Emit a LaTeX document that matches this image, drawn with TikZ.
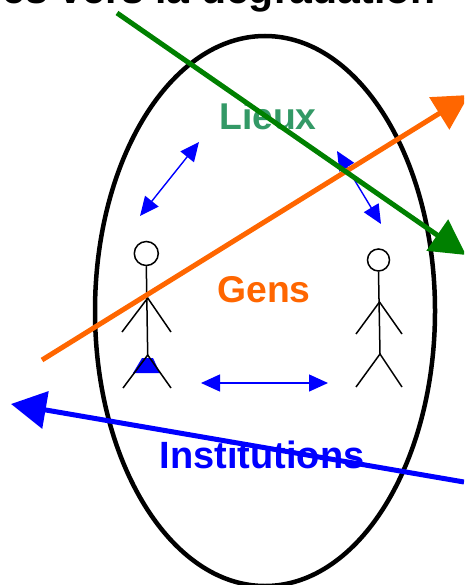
\documentclass[tikz,border=0pt]{standalone}
\usepackage{fontspec}
\setmainfont{Liberation Sans}
\usetikzlibrary{arrows.meta,shapes.geometric}
\definecolor{lieuxgreen}{HTML}{339966}
\definecolor{gensorange}{HTML}{FF6600}
\definecolor{darkgreen}{HTML}{008000}
\definecolor{pureblue}{HTML}{0000FF}
\tikzset{
  biglabel/.style={font=\fontsize{37.3}{37.3}\selectfont\bfseries, inner sep=0pt, anchor=center},
  bigarrow/.style={line width=5pt, -{Triangle[length=35pt,width=37pt]}},
  linkarrow/.style={pureblue, line width=1.4pt, {Triangle[length=19pt,width=17pt]}-{Triangle[length=19pt,width=17pt]}},
  figure line/.style={black, line width=1.5pt},
}
\begin{document}
\begin{tikzpicture}[x=1pt,y=-1pt]
\useasboundingbox (0,0) rectangle (464,585);
\clip (0,0) rectangle (464,585);
\node[font=\fontsize{41}{41}\selectfont\bfseries, inner sep=0pt, anchor=base east] (title) at (436,4) {es vers la dégradation};
\node[draw=black, line width=4.5pt, ellipse, inner sep=0pt, minimum width=340pt, minimum height=550pt] (oval) at (265,311) {};
\node[biglabel, lieuxgreen] (lieux) at (268,116) {Lieux};
\node[biglabel, gensorange] (gens) at (264,290) {Gens};
\node[biglabel, pureblue, font=\fontsize{38}{38}\selectfont\bfseries] (inst) at (262,455) {Institutions};
% left figure
\fill[pureblue] (142,358) -- (153,358) -- (160,373) -- (133,373) -- cycle;
\node[draw=black, line width=1.5pt, circle, minimum size=24pt, inner sep=0pt] (headA) at (146.3,253.5) {};
\coordinate (neckA) at (147.7,298);
\coordinate (hipA) at (147.7,355);
\coordinate (handA1) at (122,332);
\coordinate (handA2) at (171,332);
\coordinate (footA1) at (123,388);
\coordinate (footA2) at (171,388);
\draw[figure line] (headA.south) -- (hipA);
\draw[figure line] (handA1) -- (neckA) -- (handA2);
\draw[figure line] (footA1) -- (hipA) -- (footA2);
% right figure
\node[draw=black, line width=1.5pt, circle, minimum size=22pt, inner sep=0pt] (headB) at (378.5,260) {};
\coordinate (neckB) at (379.5,302);
\coordinate (hipB) at (380,354);
\coordinate (handB1) at (356,334);
\coordinate (handB2) at (402,334);
\coordinate (footB1) at (356,387);
\coordinate (footB2) at (402,387);
\draw[figure line] (headB.south) -- (hipB);
\draw[figure line] (handB1) -- (neckB) -- (handB2);
\draw[figure line] (footB1) -- (hipB) -- (footB2);
% small links
\coordinate (la1) at (199,142); \coordinate (la2) at (140,216);
\coordinate (lb1) at (337,151); \coordinate (lb2) at (381,224);
\coordinate (lc1) at (201,383); \coordinate (lc2) at (328,383);
\draw[linkarrow] (la1) -- (la2);
\draw[linkarrow] (lb1) -- (lb2);
\draw[linkarrow] (lc1) -- (lc2);
% big arrows
\coordinate (oS) at (42,360); \coordinate (oE) at (469,95);
\coordinate (gS) at (117,13); \coordinate (gE) at (466,255);
\coordinate (bS) at (464,482); \coordinate (bE) at (11,404);
\draw[bigarrow, gensorange] (oS) -- (oE);
\draw[bigarrow, darkgreen] (gS) -- (gE);
\draw[bigarrow, pureblue] (bS) -- (bE);
\end{tikzpicture}
\end{document}
